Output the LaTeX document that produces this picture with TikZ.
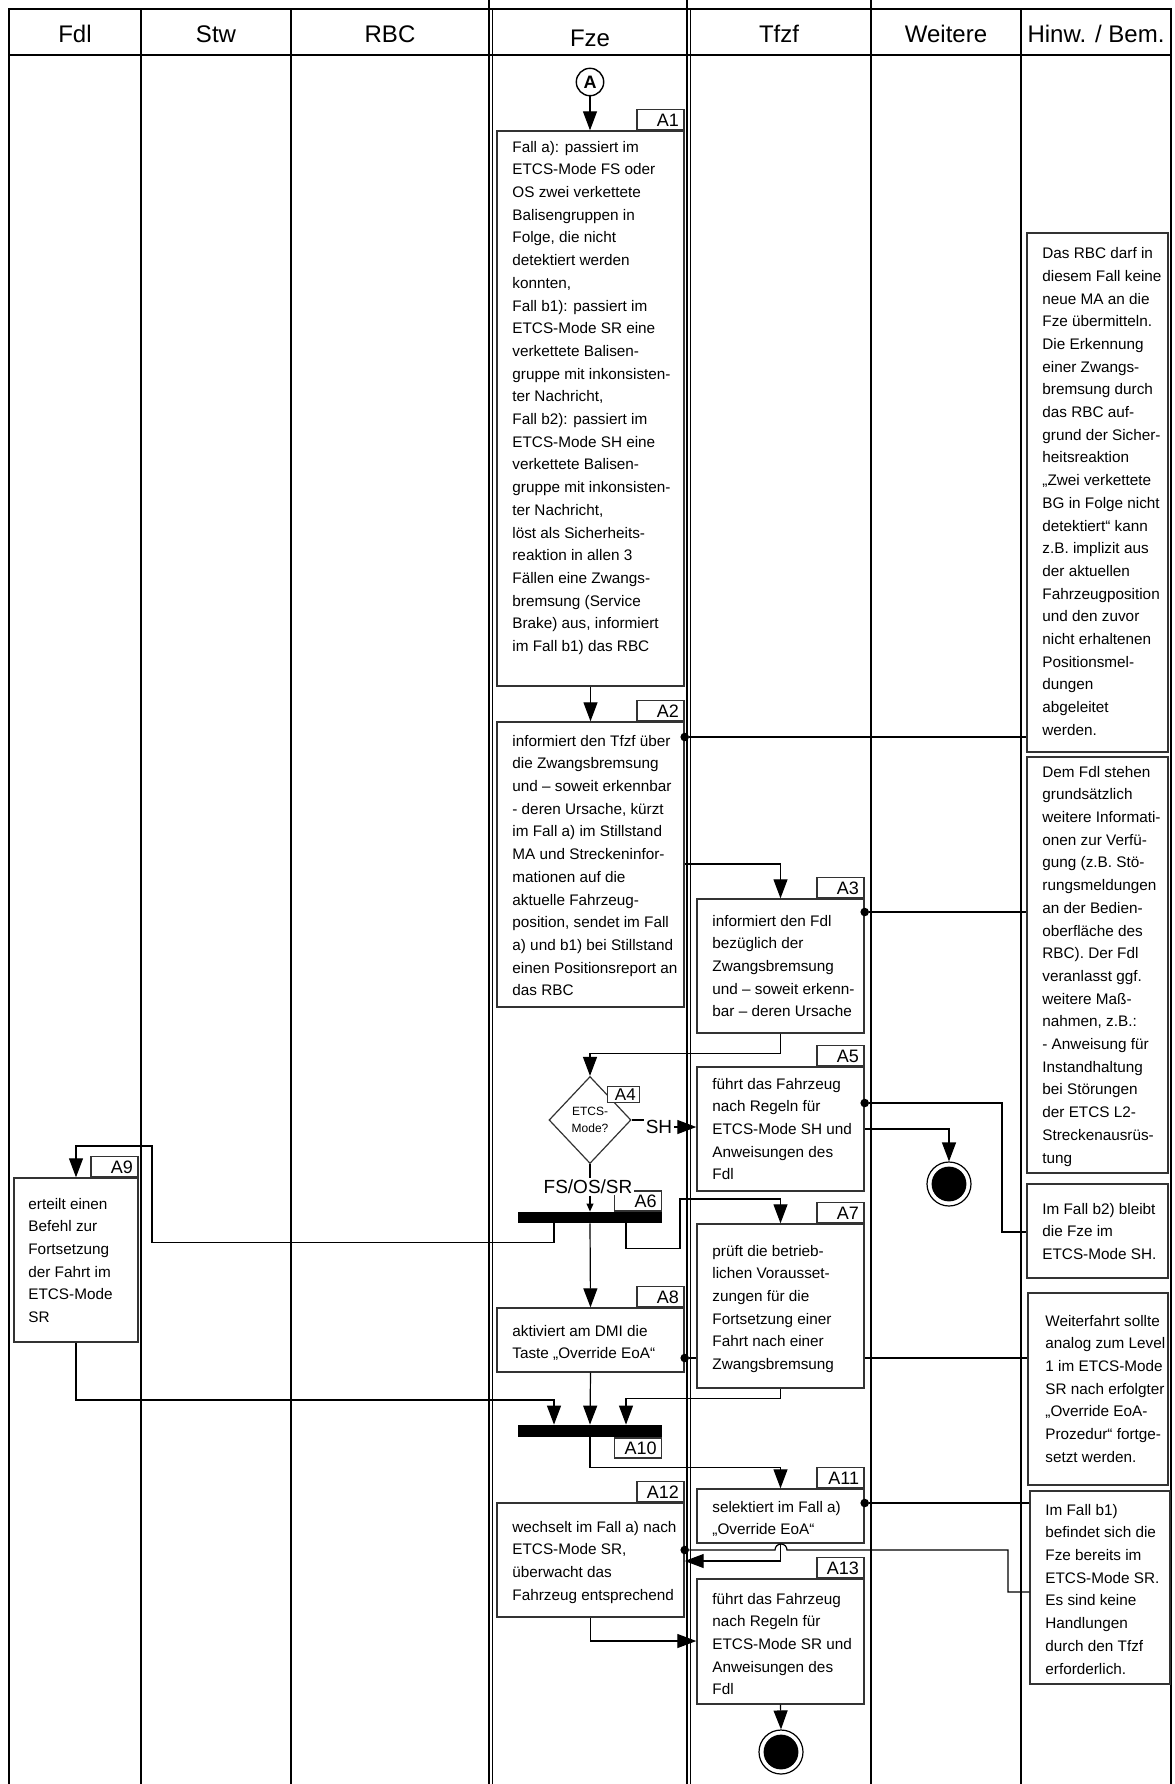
\documentclass[tikz,border=0pt]{standalone}
\usepackage{fontspec}
\setmainfont{Liberation Sans}
\usetikzlibrary{arrows.meta,shapes.geometric,fit}
\pgfdeclarelayer{bg}
\pgfsetlayers{bg,main}
\newcommand\firststrut{\rule{0pt}{8pt}}
\begin{document}
\begin{tikzpicture}[x=0.5pt,y=-0.5pt,
 ln/.style={line width=0.6pt},
 arr/.style={line width=0.6pt, -{Triangle[length=9.5pt,width=7pt]}},
 arrs/.style={line width=0.6pt, -{Triangle[length=4pt,width=3.4pt]}},
 box/.style={draw=black!80, line width=0.7pt, fill=white, inner sep=0pt},
 lbl/.style={draw=black!80, line width=0.7pt, fill=white, anchor=south east, text width=18.5pt, align=right, inner xsep=2.5pt, inner ysep=0pt, minimum height=10pt, text height=6.4pt, text depth=0pt, font=\fontsize{9}{9}\selectfont},
 txt/.style={anchor=north west, inner sep=0pt, align=left, font=\fontsize{7.65}{11.35}\selectfont},
 forkbar/.style={fill=black, inner sep=0pt},
 bdot/.style={circle, fill=black, inner sep=0pt, minimum size=4.3pt},
 endc/.style={circle, draw, line width=0.6pt, fill=white, minimum size=22pt, inner sep=0pt, path picture={\fill[black] (path picture bounding box.center) circle (8.7pt);}},
 hdr/.style={font=\fontsize{12}{12}\selectfont, inner sep=0pt}
]
\useasboundingbox (0,0) rectangle (1174,1784);

% header
\node[hdr] (H1) at (75,34) {Fdl};
\node[hdr] (H2) at (216,34) {Stw};
\node[hdr] (H3) at (390,34) {RBC};
\node[hdr] (H4) at (590,38) {Fze};
\node[hdr] (H5) at (779,34) {Tfzf};
\node[hdr] (H6) at (946,34) {Weitere};
\node[hdr] (H7) at (1096,34) {Hinw. / Bem.};

% start
\node[circle, draw, line width=0.7pt, minimum size=13.7pt, inner sep=0pt, font=\bfseries\fontsize{9}{9}\selectfont] (S) at (590,82) {A};

% boxes
\node[box, fit={(497,131) (684,686)}] (A1) {};
\node[lbl] (L1) at (A1.north east) {A1};
\node[txt] (T1) at (512,135.7) {\firststrut Fall a): passiert im\\ETCS-Mode FS oder\\OS zwei verkettete\\Balisengruppen in\\Folge, die nicht\\detektiert werden\\konnten,\\Fall b1): passiert im\\ETCS-Mode SR eine\\verkettete Balisen-\\gruppe mit inkonsisten-\\ter Nachricht,\\Fall b2): passiert im\\ETCS-Mode SH eine\\verkettete Balisen-\\gruppe mit inkonsisten-\\ter Nachricht,\\löst als Sicherheits-\\reaktion in allen 3\\Fällen eine Zwangs-\\bremsung (Service\\Brake) aus, informiert\\im Fall b1) das RBC};

\node[box, fit={(497,722) (684,1007)}] (A2) {};
\node[lbl] (L2) at (A2.north east) {A2};
\node[txt] (T2) at (512,729.7) {\firststrut informiert den Tfzf über\\die Zwangsbremsung\\und – soweit erkennbar\\- deren Ursache, kürzt\\im Fall a) im Stillstand\\MA und Streckeninfor-\\mationen auf die\\aktuelle Fahrzeug-\\position, sendet im Fall\\a) und b1) bei Stillstand\\einen Positionsreport an\\das RBC};

\node[box, fit={(697,899) (864,1033)}] (A3) {};
\node[lbl] (L3) at (A3.north east) {A3};
\node[txt] (T3) at (712,909.7) {\firststrut informiert den Fdl\\bezüglich der\\Zwangsbremsung\\und – soweit erkenn-\\bar – deren Ursache};

\node[diamond, draw=black!80, line width=0.6pt, fill=white, minimum width=41pt, minimum height=43.5pt, inner sep=0pt, align=center, font=\fontsize{6}{8.3}\selectfont] (A4) at (590,1120) {ETCS-\\Mode?};
\node[lbl, anchor=north west, text width=12pt, inner xsep=2pt, minimum height=8pt, text height=5.8pt, font=\fontsize{8.5}{8.5}\selectfont] (L4) at (607,1086) {A4};

\node[box, fit={(697,1067) (864,1191)}] (A5) {};
\node[lbl] (L5) at (A5.north east) {A5};
\node[txt] (T5) at (712,1072.7) {\firststrut führt das Fahrzeug\\nach Regeln für\\ETCS-Mode SH und\\Anweisungen des\\Fdl};

\node[forkbar, fit={(518,1212) (662,1223)}] (B6) {};
\node[lbl] (L6) at (B6.north east) {A6};
\node[fill=white, inner sep=0.6pt, font=\fontsize{9.5}{9.5}\selectfont] (FS) at (588,1187) {FS/OS/SR};
\node[inner sep=0.6pt, font=\fontsize{9.5}{9.5}\selectfont] (SH) at (659,1127) {SH};

\node[box, fit={(697,1224) (864,1388)}] (A7) {};
\node[lbl] (L7) at (A7.north east) {A7};
\node[txt] (T7) at (712,1239.7) {\firststrut prüft die betrieb-\\lichen Vorausset-\\zungen für die\\Fortsetzung einer\\Fahrt nach einer\\Zwangsbremsung};

\node[box, fit={(497,1308) (684,1372)}] (A8) {};
\node[lbl] (L8) at (A8.north east) {A8};
\node[txt] (T8) at (512,1319.7) {\firststrut aktiviert am DMI die\\Taste „Override EoA“};

\node[box, fit={(14,1178) (138,1342)}] (A9) {};
\node[lbl] (L9) at (A9.north east) {A9};
\node[txt] (T9) at (28,1192.7) {\firststrut erteilt einen\\Befehl zur\\Fortsetzung\\der Fahrt im\\ETCS-Mode\\SR};

\node[forkbar, fit={(518,1425) (662,1437)}] (B10) {};
\node[lbl, anchor=north east] (L10) at (B10.south east) {A10};

\node[box, fit={(697,1489) (864,1543)}] (A11) {};
\node[lbl] (L11) at (A11.north east) {A11};
\node[txt] (T11) at (712,1495.7) {\firststrut selektiert im Fall a)\\„Override EoA“};

\node[box, fit={(497,1503) (684,1617)}] (A12) {};
\node[lbl] (L12) at (A12.north east) {A12};
\node[txt] (T12) at (512,1515.7) {\firststrut wechselt im Fall a) nach\\ETCS-Mode SR,\\überwacht das\\Fahrzeug entsprechend};

\node[box, fit={(697,1579) (864,1704)}] (A13) {};
\node[lbl] (L13) at (A13.north east) {A13};
\node[txt] (T13) at (712,1587.7) {\firststrut führt das Fahrzeug\\nach Regeln für\\ETCS-Mode SR und\\Anweisungen des\\Fdl};

\node[endc] (E1) at (949,1184) {};
\node[endc] (E2) at (781,1752) {};

% notes
\node[box, fit={(1027,233) (1168,752)}] (N1) {};
\node[txt] (TN1) at (1042,242.2) {\firststrut Das RBC darf in\\diesem Fall keine\\neue MA an die\\Fze übermitteln.\\Die Erkennung\\einer Zwangs-\\bremsung durch\\das RBC auf-\\grund der Sicher-\\heitsreaktion\\„Zwei verkettete\\BG in Folge nicht\\detektiert“ kann\\z.B. implizit aus\\der aktuellen\\Fahrzeugposition\\und den zuvor\\nicht erhaltenen\\Positionsmel-\\dungen\\abgeleitet\\werden.};
\node[box, fit={(1027,757) (1168,1173)}] (N2) {};
\node[txt] (TN2) at (1042,760.7) {\firststrut Dem Fdl stehen\\grundsätzlich\\weitere Informati-\\onen zur Verfü-\\gung (z.B. Stö-\\rungsmeldungen\\an der Bedien-\\oberfläche des\\RBC). Der Fdl\\veranlasst ggf.\\weitere Maß-\\nahmen, z.B.:\\- Anweisung für\\Instandhaltung\\bei Störungen\\der ETCS L2-\\Streckenausrüs-\\tung};
\node[box, fit={(1027,1184) (1168,1278)}] (N3) {};
\node[txt] (TN3) at (1042,1197.7) {\firststrut Im Fall b2) bleibt\\die Fze im\\ETCS-Mode SH.};
\node[box, fit={(1028,1293) (1168,1485)}] (N4) {};
\node[txt] (TN4) at (1045,1309.7) {\firststrut Weiterfahrt sollte\\analog zum Level\\1 im ETCS-Mode\\SR nach erfolgter\\„Override EoA-\\Prozedur“ fortge-\\setzt werden.};
\node[box, fit={(1030,1491) (1170,1684)}] (N5) {};
\node[txt] (TN5) at (1045,1498.7) {\firststrut Im Fall b1)\\befindet sich die\\Fze bereits im\\ETCS-Mode SR.\\Es sind keine\\Handlungen\\durch den Tfzf\\erforderlich.};

% control flow
\draw[arr] (S.south) -- (S.south |- A1.north);
\draw[arr] (A1.south) -- (A2.north);
\draw[arr] (A2.east |- 0,864) -| (A3.north);
\draw[arr] (A3.south) -- ++(0,20) -| (A4.north);
\draw[ln] (A4.east) -- (A4.east -| SH.west);
\draw[arr] (SH.east) -- (A5.west |- SH.east);
\draw[ln] (A4.south) -- (A4.south |- FS.north);
\draw[arrs] (B6.north |- FS.south) -- (B6.north);
\draw[arr] (A5.east |- 0,1129) -| (E1.north);
\draw[arr] (B6.south -| 554,0) -- ++(0,19) -| (152,1146) -| (A9.north);
\draw[arr] (B6.south) -- (A8.north);
\draw[arr] (B6.south -| 626,0) -- ++(0,25) -| (680,1199) -| (A7.north);
\draw[arr] (A9.south) |- (554,1400) -- (B10.north -| 554,0);
\draw[arr] (A8.south) -- (B10.north);
\draw[arr] (A7.south) -- ++(0,10) -| (B10.north -| 626,0);
\draw[arr] (B10.south) -- ++(0,30) -| (A11.north);
\draw[arr] (A11.south) |- (A12.east |- 0,1561);
\draw[arr] (A12.south) |- (A13.west |- 0,1641);
\draw[arr] (A13.south) -- (E2.north);

% annotation links
\node[bdot] (d1) at (A2.east |- 0,737) {};
\draw[ln] (d1) -- (N1.west |- 0,737);
\node[bdot] (d2) at (A3.east |- 0,912) {};
\draw[ln] (d2) -- (N2.west |- 0,912);
\node[bdot] (d3) at (A5.east |- 0,1103) {};
\draw[ln] (d3) -| (1002,1232) -- (N3.west |- 0,1232);
\node[bdot] (d4) at (A8.east |- 0,1358) {};
\node[bdot] (d5) at (A11.east |- 0,1503) {};
\draw[ln] (d5) -- (N5.west |- 0,1503);
\node[bdot] (d6) at (A12.east |- 0,1550) {};
\draw[ln] (d6) -- (775,1550) arc[start angle=180, end angle=0, radius=3pt] -- (1008,1550) |- (N5.west |- 0,1592);

\begin{pgfonlayer}{bg}
 \fill[white] (0,0) rectangle (1174,1784);
 \draw[line width=0.7pt] (9,1784) -- (9,9) -- (1171,9) -- (1171,1784);
 \draw[line width=0.7pt] (9,55) -- (1171,55);
 \foreach \cx in {141,291,492.5,690.5,1021} {\draw[line width=0.6pt] (\cx,9) -- (\cx,1784);}
 \foreach \cx in {489,687,871} {\draw[line width=0.6pt] (\cx,0) -- (\cx,1784);}
 \draw[ln] (d4) -- (N4.west |- 0,1358);
\end{pgfonlayer}
\end{tikzpicture}
\end{document}
